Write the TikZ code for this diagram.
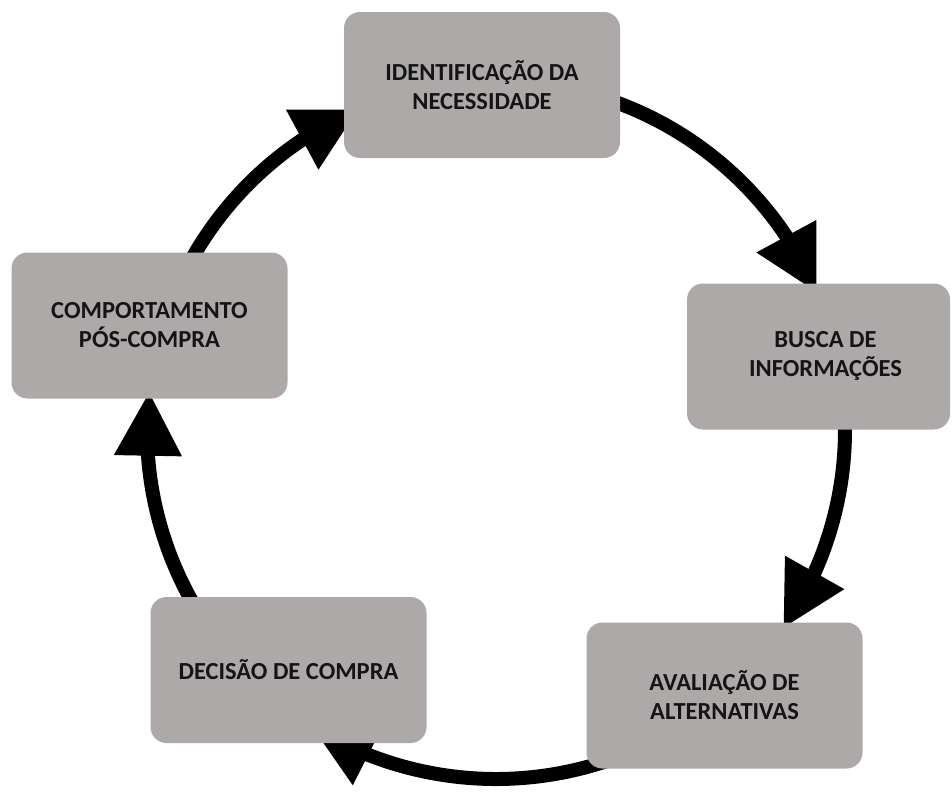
\documentclass[tikz,border=0pt]{standalone}
\usepackage{fontspec}
\setmainfont{Carlito}
\usetikzlibrary{arrows.meta,bending}
\definecolor{boxgray}{RGB}{173,169,169}
\definecolor{txt}{RGB}{20,20,20}
\begin{document}
\begin{tikzpicture}[x=1pt,y=-1pt,
  stagebox/.style={rectangle, rounded corners=16pt, fill=boxgray, draw=none,
    minimum width=276pt, minimum height=146pt, align=center, text=txt,
    font=\fontsize{24.5pt}{29pt}\selectfont\bfseries, inner sep=0pt},
  cyclearrow/.style={line width=14pt, draw=black,
    -{Triangle[length=64pt,width=64pt,flex]}}]
\useasboundingbox (0,0) rectangle (952,796);
\coordinate (c) at (496,430);
% arrows (drawn below the boxes)
\draw[cyclearrow] ([shift={(-75:349)}]c) arc[start angle=-75, end angle=-23.2, radius=349];
\draw[cyclearrow] ([shift={(-5:349)}]c) arc[start angle=-5, end angle=34.6, radius=349];
\draw[cyclearrow] ([shift={(70:349)}]c) arc[start angle=70, end angle=122, radius=349];
\draw[cyclearrow] ([shift={(145:349)}]c) arc[start angle=145, end angle=186.3, radius=349];
\draw[cyclearrow] ([shift={(205:349)}]c) arc[start angle=205, end angle=246.8, radius=349];
% boxes
\node[stagebox] (b1) at (482,85) {IDENTIFICAÇÃO DA\\NECESSIDADE};
\node[stagebox, minimum width=263pt] (b2) at (818.5,356.5) {\hspace*{14pt}BUSCA DE\\\hspace*{14pt}INFORMAÇÕES};
\node[stagebox] (b3) at (724.5,695.5) {AVALIAÇÃO DE\\ALTERNATIVAS};
\node[stagebox] (b4) at (288.5,670) {DECISÃO DE COMPRA};
\node[stagebox] (b5) at (149.5,325.5) {COMPORTAMENTO\\PÓS-COMPRA};
\end{tikzpicture}
\end{document}
